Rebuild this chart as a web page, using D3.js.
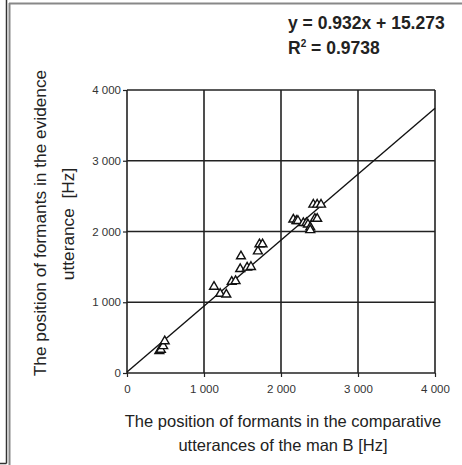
<!DOCTYPE html>
<html>
<head>
<meta charset="utf-8">
<script src="https://cdn.jsdelivr.net/npm/d3@7"></script>
<style>
  body { margin: 0; background: #fff; }
  text { font-family: "Liberation Sans", Arial, sans-serif; }
</style>
</head>
<body>
<div id="chart"></div>
<script>
const W = 462, H = 465;
const line_color = "#222";

// formant positions [Hz]: comparative (x) vs evidence (y)
const comparative = [420, 440, 470, 490, 1130, 1210, 1290, 1360, 1410, 1470, 1480, 1560, 1610, 1700, 1720, 1760,
  2160, 2200, 2220, 2290, 2330, 2350, 2380, 2380, 2420, 2440, 2470, 2470, 2520];
const evidence = [310, 330, 380, 450, 1220, 1120, 1110, 1290, 1300, 1470, 1650, 1490, 1500, 1720, 1820, 1820,
  2170, 2150, 2150, 2120, 2120, 2100, 2060, 2020, 2380, 2180, 2180, 2380, 2380];
const ticks = [0, 1000, 2000, 3000, 4000];
const slope = 0.932, intercept = 15.273;

const svg = d3.select("#chart").append("svg")
  .attr("width", W).attr("height", H);

// frame lines around the figure
svg.append("line").attr("x1", 6.5).attr("x2", 6.5).attr("y1", 0).attr("y2", 463.5)
  .attr("stroke", "#333").attr("stroke-width", 1.5);
svg.append("line").attr("x1", 0).attr("x2", 6.5).attr("y1", 463.5).attr("y2", 463.5)
  .attr("stroke", "#333").attr("stroke-width", 1.5);
svg.append("line").attr("x1", 9.5).attr("x2", 9.5).attr("y1", 3).attr("y2", H)
  .attr("stroke", "#888").attr("stroke-width", 2);
svg.append("line").attr("x1", 9).attr("x2", W).attr("y1", 3.5).attr("y2", 3.5)
  .attr("stroke", "#888").attr("stroke-width", 2);

const x = d3.scaleLinear().domain([0, 4000]).range([127, 435]);
const y = d3.scaleLinear().domain([0, 4000]).range([373, 90]);
const fmt = d => d3.format(",")(d).replace(",", " ");

// grid
svg.append("g").selectAll("line").data(ticks).join("line")
  .attr("x1", d => x(d)).attr("x2", d => x(d)).attr("y1", y(0)).attr("y2", y(4000))
  .attr("stroke", line_color).attr("stroke-width", 1.6);
svg.append("g").selectAll("line").data(ticks).join("line")
  .attr("y1", d => y(d)).attr("y2", d => y(d)).attr("x1", x(0)).attr("x2", x(4000))
  .attr("stroke", line_color).attr("stroke-width", 1.6);

const xAxis = svg.append("g").attr("transform", `translate(0,${y(0)})`)
  .call(d3.axisBottom(x).tickValues(ticks).tickFormat(fmt).tickSize(4).tickPadding(8));
const yAxis = svg.append("g").attr("transform", `translate(${x(0)},0)`)
  .call(d3.axisLeft(y).tickValues(ticks).tickFormat(fmt).tickSize(4).tickPadding(2));
[xAxis, yAxis].forEach(a => {
  a.select(".domain").remove();
  a.selectAll("line").attr("stroke", line_color).attr("stroke-width", 1.2);
  a.selectAll("text").attr("font-size", 11.5).attr("fill", "#333")
    .style("font-family", "'Liberation Sans', Arial, sans-serif");
});

// trend line
svg.append("line")
  .attr("x1", x(0)).attr("y1", y(intercept))
  .attr("x2", x(4000)).attr("y2", y(slope * 4000 + intercept))
  .attr("stroke", "#111").attr("stroke-width", 1.4);

// markers
const tri = d3.symbol().type(d3.symbolTriangle).size(34);
svg.append("g").selectAll("path").data(comparative).join("path")
  .attr("d", tri)
  .attr("transform", (d, i) => `translate(${x(d)},${y(evidence[i])})`)
  .attr("fill", "#fff").attr("stroke", "#111").attr("stroke-width", 1.4);

// axis titles
svg.append("text").attr("x", 283).attr("y", 427).attr("text-anchor", "middle")
  .attr("font-size", 16.5).attr("fill", "#222")
  .text("The position of formants in the comparative");
svg.append("text").attr("x", 283).attr("y", 451).attr("text-anchor", "middle")
  .attr("font-size", 16.5).attr("fill", "#222")
  .text("utterances of the man B [Hz]");
svg.append("text").attr("transform", "translate(46,223) rotate(-90)").attr("text-anchor", "middle")
  .attr("font-size", 17.3).attr("fill", "#222")
  .text("The position of formants in the evidence");
svg.append("text").attr("transform", "translate(74,224) rotate(-90)").attr("text-anchor", "middle")
  .attr("font-size", 17.3).attr("fill", "#222").attr("xml:space", "preserve")
  .text("utterance  [Hz]");

// equation
svg.append("text").attr("x", 288).attr("y", 29).attr("font-size", 17.5).attr("font-weight", "bold")
  .attr("fill", "#222").text("y = 0.932x + 15.273");
const r2 = svg.append("text").attr("x", 288).attr("y", 54).attr("font-size", 17.5).attr("font-weight", "bold")
  .attr("fill", "#222");
r2.append("tspan").text("R");
r2.append("tspan").attr("dy", -7).attr("font-size", 10).text("2");
r2.append("tspan").attr("dy", 7).text(" = 0.9738");
</script>
</body>
</html>
